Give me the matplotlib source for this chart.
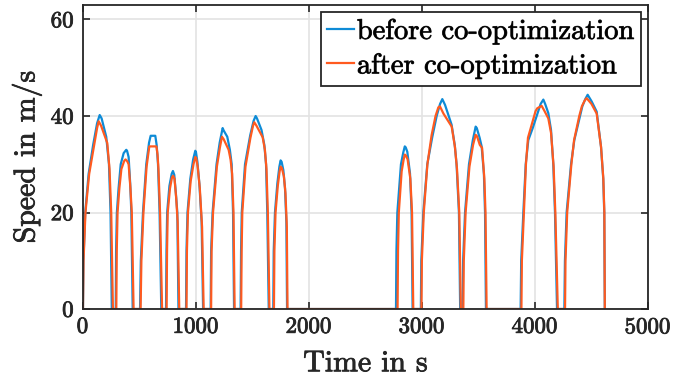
import matplotlib.pyplot as plt
import matplotlib.patheffects as pe

# speed profiles, one pair of lists per trip
before_t = [
    [0, 4, 20, 50, 90, 125, 148, 165, 206, 230, 244, 255],
    [290, 293, 300, 315, 334, 360, 383, 390, 404, 418, 428, 440],
    [505, 512, 531, 560, 585, 599, 640, 652, 664, 678, 693],
    [735, 739, 745, 765, 785, 796, 808, 822, 835, 845],
    [912, 916, 925, 950, 975, 994, 1000, 1012, 1030, 1050, 1063],
    [1130, 1134, 1147, 1182, 1210, 1236, 1245, 1277, 1300, 1316, 1328, 1337],
    [1395, 1399, 1405, 1434, 1480, 1510, 1528, 1540, 1580, 1605, 1620, 1631, 1644],
    [1684, 1688, 1699, 1720, 1738, 1749, 1758, 1773, 1788, 1800, 1806],
    [2770, 2774, 2782, 2814, 2835, 2848, 2856, 2870, 2894, 2908, 2917],
    [2990, 2994, 3012, 3047, 3090, 3130, 3160, 3180, 3204, 3262, 3290, 3306, 3327, 3338],
    [3360, 3364, 3381, 3416, 3450, 3475, 3485, 3510, 3528, 3548, 3558, 3566],
    [3873, 3878, 3897, 3918, 3941, 3980, 4015, 4050, 4074, 4090, 4118, 4142, 4162, 4177, 4195],
    [4260, 4265, 4280, 4319, 4348, 4398, 4419, 4445, 4466, 4502, 4546, 4584, 4604, 4613, 4618],
]
before_v = [
    [0, 10, 20, 28, 34, 38.5, 40.2, 39.5, 35.7, 30, 20, 0],
    [0, 12, 20, 25, 30, 32.3, 33, 32.8, 31.5, 26, 20, 0],
    [0, 10, 20, 30, 34.5, 35.9, 35.9, 34, 30, 20, 0],
    [0, 12, 20, 25.5, 28, 28.6, 27.8, 24, 20, 0],
    [0, 12, 20, 27, 31, 32.8, 32.5, 30.6, 26, 18, 0],
    [0, 12, 20, 30, 34.5, 37.5, 37, 35.7, 33, 30, 20, 0],
    [0, 12, 20, 30, 36, 39, 40, 39.5, 37.1, 34, 30, 20, 0],
    [0, 12, 20, 26, 29.5, 30.8, 30.5, 28.8, 25, 18, 0],
    [0, 12, 20, 30, 32.5, 33.7, 33.5, 32.6, 28.1, 20, 0],
    [0, 10, 20, 30, 35.5, 40, 42.5, 43.5, 42.3, 38.2, 34, 30, 20, 0],
    [0, 10, 20, 30, 35, 37.8, 37.5, 35.5, 33.7, 28, 20, 0],
    [0, 10, 20, 30, 35, 37.5, 40, 42.5, 43.4, 42.5, 40.6, 37.1, 30, 20, 0],
    [0, 10, 20, 30, 35, 40, 42, 43.5, 44.4, 43, 40.9, 33.7, 27, 20, 0],
]
after_t = [
    [0, 5, 22, 55, 95, 125, 139, 160, 215, 235, 250, 265],
    [295, 299, 306, 322, 340, 365, 377, 392, 404, 420, 432, 448],
    [510, 517, 535, 563, 580, 587, 650, 660, 668, 682, 700],
    [740, 744, 750, 770, 788, 798, 810, 825, 838, 852],
    [916, 920, 929, 953, 978, 994, 1002, 1015, 1034, 1054, 1068],
    [1134, 1138, 1151, 1185, 1212, 1230, 1245, 1289, 1306, 1320, 1332, 1342],
    [1400, 1404, 1410, 1438, 1482, 1505, 1516, 1535, 1590, 1610, 1624, 1636, 1650],
    [1690, 1694, 1704, 1724, 1740, 1749, 1760, 1778, 1792, 1804, 1810],
    [2784, 2788, 2795, 2820, 2838, 2848, 2858, 2873, 2897, 2912, 2923],
    [2995, 2999, 3016, 3048, 3085, 3120, 3145, 3159, 3190, 3263, 3292, 3310, 3330, 3344],
    [3366, 3370, 3386, 3420, 3452, 3475, 3487, 3512, 3532, 3552, 3562, 3572],
    [3880, 3884, 3902, 3920, 3938, 3975, 4005, 4020, 4059, 4085, 4118, 4142, 4165, 4180, 4202],
    [4266, 4270, 4285, 4322, 4346, 4392, 4415, 4440, 4457, 4500, 4546, 4585, 4605, 4614, 4618],
]
after_v = [
    [0, 10, 20, 28, 33.5, 37.5, 38.9, 38, 34.4, 29, 20, 0],
    [0, 12, 20, 25, 29, 30.7, 31, 30.6, 30, 25, 20, 0],
    [0, 10, 20, 29.5, 32.5, 33.7, 33.7, 32, 29, 20, 0],
    [0, 12, 20, 25, 27.3, 27.6, 27, 23, 18, 0],
    [0, 12, 20, 26.5, 30, 31.5, 31.3, 29.5, 25, 17, 0],
    [0, 12, 20, 29.5, 33.5, 35.7, 35.2, 33, 31, 28, 20, 0],
    [0, 12, 20, 29.5, 35.5, 38, 38.7, 38, 35.6, 33, 29, 20, 0],
    [0, 12, 20, 25.5, 28.5, 29.5, 29.2, 27.5, 24, 17, 0],
    [0, 12, 20, 28.5, 31, 32, 31.8, 31, 27, 20, 0],
    [0, 10, 20, 30, 36, 40, 41.8, 42, 40.5, 37.8, 33.5, 29, 20, 0],
    [0, 10, 20, 29.5, 34, 36.1, 35.8, 34, 33.4, 27, 20, 0],
    [0, 10, 20, 30, 35.5, 38.5, 41, 41.6, 42.1, 41, 39.5, 36.5, 29.5, 20, 0],
    [0, 10, 20, 30, 35, 40, 42, 43.2, 43.7, 42.5, 40.5, 33.5, 27, 20, 0],
]
xticks = [0, 1000, 2000, 3000, 4000, 5000]
yticks = [0, 20, 40, 60]

plt.rcParams['font.family'] = 'cmr10'
plt.rcParams['mathtext.fontset'] = 'cm'
plt.rcParams['axes.formatter.use_mathtext'] = True

ink = '#262626'
bold = [pe.withStroke(linewidth=0.6, foreground=ink)]

fig = plt.figure(figsize=(6.74, 3.80), dpi=100)
ax = fig.add_axes([0.1231, 0.1868, 0.8383, 0.80])

t1 = [t for trip in before_t for t in trip]
v1 = [v for trip in before_v for v in trip]
t2 = [t for trip in after_t for t in trip]
v2 = [v for trip in after_v for v in trip]

ax.plot(t1, v1, color='#0E8BD6', lw=1.6, label='before co-optimization')
ax.plot(t2, v2, color='#FF5A1F', lw=1.6, label='after co-optimization')

ax.set_xlim(0, 5000)
ax.set_ylim(0, 63)
ax.set_xticks(xticks)
ax.set_yticks(yticks)
ax.grid(True, color='#e3e3e3', lw=1.2)
ax.set_axisbelow(True)
ax.tick_params(direction='in', top=True, right=True, labelsize=16.5, length=5,
               width=1.2, colors=ink, pad=6)
for s in ax.spines.values():
    s.set_color(ink)
    s.set_linewidth(1.3)

ax.set_xlabel('Time in s', fontsize=21.5, color=ink, labelpad=9)
ax.set_ylabel('Speed in m/s', fontsize=21.5, color=ink, labelpad=6)

leg = ax.legend(loc='upper right', fontsize=20.5, frameon=True, fancybox=False,
                edgecolor=ink, framealpha=1, borderpad=0.22,
                handlelength=0.95, handletextpad=0.1, labelspacing=0.28,
                borderaxespad=0.25)
leg.get_frame().set_linewidth(1.3)

texts = ax.get_xticklabels() + ax.get_yticklabels() + leg.get_texts()
texts += [ax.xaxis.label, ax.yaxis.label]
for t in texts:
    t.set_path_effects(bold)

fig.savefig('out.png', dpi=100)
